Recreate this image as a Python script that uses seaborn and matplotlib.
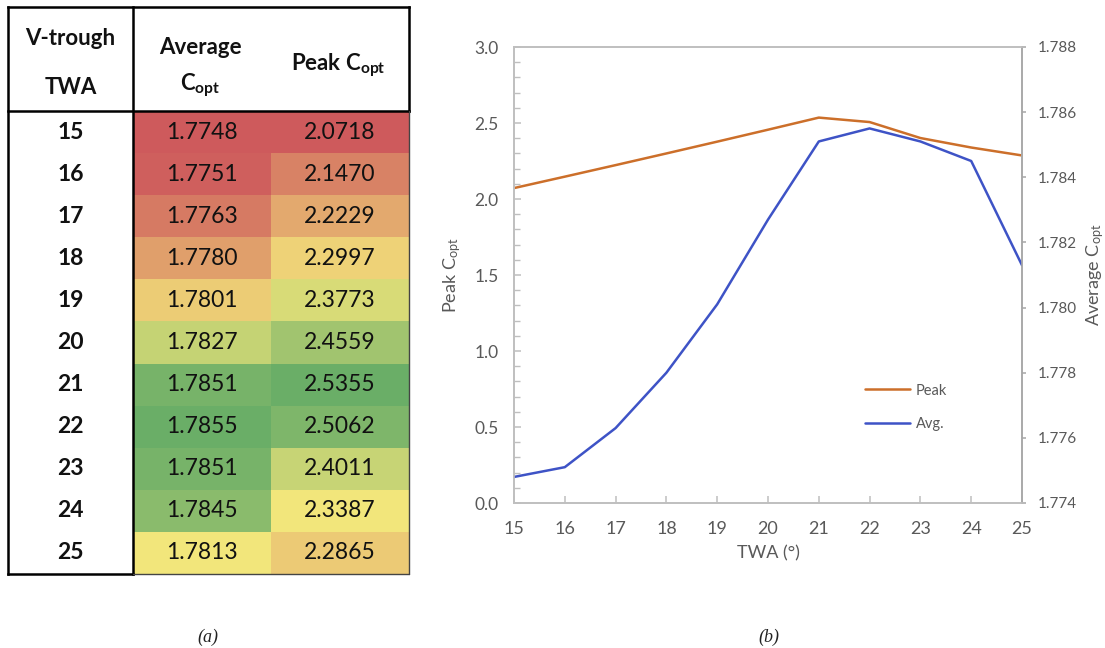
import numpy as np
import pandas as pd
import matplotlib
matplotlib.use("Agg")
import matplotlib.pyplot as plt
import seaborn as sns
from matplotlib.colors import LinearSegmentedColormap, TwoSlopeNorm
from matplotlib.ticker import MultipleLocator, FormatStrFormatter

# ---------------- data ----------------
twa = [15, 16, 17, 18, 19, 20, 21, 22, 23, 24, 25]
avg_copt = [1.7748, 1.7751, 1.7763, 1.7780, 1.7801, 1.7827, 1.7851, 1.7855, 1.7851, 1.7845, 1.7813]
peak_copt = [2.0718, 2.1470, 2.2229, 2.2997, 2.3773, 2.4559, 2.5355, 2.5062, 2.4011, 2.3387, 2.2865]
series_labels = ["Peak", "Avg."]
x_label = "TWA (°)"
left_label = r"Peak C$_{\mathrm{opt}}$"
right_label = r"Average C$_{\mathrm{opt}}$"

# ---------------- style ----------------
sns.set_theme(style="white")
plt.rcParams["font.family"] = ["Lato", "DejaVu Sans"]
plt.rcParams["mathtext.fontset"] = "custom"
plt.rcParams["mathtext.rm"] = "Lato"
plt.rcParams["mathtext.bf"] = "Lato:bold"
plt.rcParams["mathtext.it"] = "Lato:italic"

PEAK_C = "#CC6F2A"
AVG_C = "#3E53C6"
SPINE = "#BFBFBF"
TXT = "#595959"

W, H = 1105, 648
fig = plt.figure(figsize=(W / 100, H / 100), dpi=100)


def px_rect(x0, y0, x1, y1):
    return [x0 / W, 1 - y1 / H, (x1 - x0) / W, (y1 - y0) / H]


# ---------------- table (a) ----------------
tax = fig.add_axes(px_rect(133, 111, 409, 574))
df = pd.DataFrame({"avg": avg_copt, "peak": peak_copt}, index=twa)
cmap = LinearSegmentedColormap.from_list("ryg", ["#CE5A5C", "#F3E67B", "#6AAE67"])
for j, col in enumerate(df.columns):
    vals = df[col].to_numpy()
    norm = TwoSlopeNorm(vcenter=float(np.median(vals)), vmin=vals.min(), vmax=vals.max())
    mask = np.ones(df.shape, dtype=bool)
    mask[:, j] = False
    sns.heatmap(df, mask=mask, cmap=cmap, norm=norm, annot=True, fmt=".4f",
                cbar=False, ax=tax, xticklabels=False, yticklabels=False,
                annot_kws={"color": "#111111", "fontsize": 16.5})

xl, yt = -0.906, -2.47
nrow = len(twa)
thick = dict(color="black", lw=1.8, clip_on=False, solid_capstyle="projecting")
thin = dict(color="#444444", lw=1.0, clip_on=False)
tax.plot([xl, 2], [yt, yt], **thick)
tax.plot([xl, xl], [yt, nrow], **thick)
tax.plot([xl, 2], [0, 0], **thick)
tax.plot([0, 0], [yt, nrow], **thick)
tax.plot([xl, 0], [nrow, nrow], **thick)
tax.plot([2, 2], [yt, 0], **thick)
tax.plot([2, 2], [0, nrow], **thin)
tax.plot([0, 2], [nrow, nrow], **thin)

for i, t in enumerate(twa):
    tax.text(xl / 2, i + 0.5, str(t), ha="center", va="center",
             fontsize=16.5, fontweight="bold", color="#111111")

hdr = dict(ha="center", va="center", fontsize=16, fontweight="bold", color="#111111")
tax.text(xl / 2, -1.73, "V-trough", **hdr)
tax.text(xl / 2, -0.55, "TWA", **hdr)
tax.text(0.49, -1.52, "Average", **hdr)
tax.text(0.49, -0.62, r"C$_{\mathbf{opt}}$", **hdr)
tax.text(1.49, -1.09, r"Peak C$_{\mathbf{opt}}$", **hdr)

# ---------------- chart (b) ----------------
ax = fig.add_axes(px_rect(514, 47, 1022, 503))
sns.lineplot(x=twa, y=peak_copt, ax=ax, color=PEAK_C, linewidth=1.8,
             label=series_labels[0], legend=False)
ax2 = ax.twinx()
sns.lineplot(x=twa, y=avg_copt, ax=ax2, color=AVG_C, linewidth=1.8,
             label=series_labels[1], legend=False)

ax.set_xlim(15, 25)
ax.set_ylim(0, 3)
ax2.set_ylim(1.774, 1.788)
ax.xaxis.set_major_locator(MultipleLocator(1))
ax.yaxis.set_major_locator(MultipleLocator(0.5))
ax.yaxis.set_minor_locator(MultipleLocator(0.1))
ax.yaxis.set_major_formatter(FormatStrFormatter("%.1f"))
ax2.yaxis.set_major_locator(MultipleLocator(0.002))
ax2.yaxis.set_major_formatter(FormatStrFormatter("%.3f"))

for a in (ax, ax2):
    for s in a.spines.values():
        s.set_color(SPINE)
        s.set_linewidth(1.2)
ax2.spines["right"].set_color("#A6A6A6")

ax.tick_params(axis="x", which="major", direction="in", length=5, width=1.1,
               color=SPINE, bottom=True, top=False, labelsize=13,
               labelcolor=TXT, pad=13)
ax.tick_params(axis="y", which="major", direction="in", length=5, width=1.1,
               color=SPINE, left=True, right=False, labelsize=12.5,
               labelcolor=TXT, pad=11)
ax.tick_params(axis="y", which="minor", direction="in", length=4, width=1.0,
               color=SPINE, left=True, right=False)
ax2.tick_params(axis="y", which="major", direction="out", length=3, width=1.1,
                color="#A6A6A6", right=True, left=False, labelsize=11,
                labelcolor=TXT, pad=8.5)

ax.set_xlabel(x_label, fontsize=13, color=TXT, labelpad=6)
ax.set_ylabel(left_label, fontsize=13, color=TXT, labelpad=8)
ax2.set_ylabel(right_label, fontsize=13, color=TXT, labelpad=5)

handles = [ax.get_lines()[0], ax2.get_lines()[0]]
ax2.legend(handles, series_labels, loc="upper left", bbox_to_anchor=(0.691, 0.262),
           frameon=False, fontsize=10.5, handlelength=3.1, handletextpad=0.4,
           labelspacing=1.35, borderpad=0, borderaxespad=0, labelcolor=TXT)

# ---------------- captions ----------------
cap = dict(ha="center", va="center", fontsize=13, style="italic",
           family="Liberation Serif", color="#222222")
fig.text(208 / W, 1 - 637 / H, "(a)", **cap)
fig.text(769 / W, 1 - 637 / H, "(b)", **cap)

fig.savefig("out.png", dpi=100)
